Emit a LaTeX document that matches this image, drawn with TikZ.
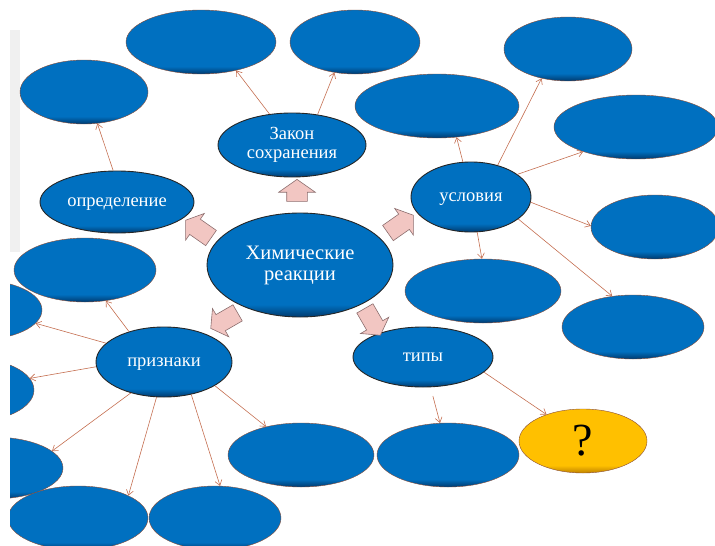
\documentclass[tikz,border=0pt]{standalone}
\usepackage{fontspec}
\setmainfont{Liberation Serif}
\usetikzlibrary{shapes.geometric,shapes.arrows,arrows.meta}
\definecolor{eblue}{RGB}{0,112,192}
\definecolor{eblueD}{RGB}{0,58,110}
\definecolor{eline}{RGB}{196,110,80}
\definecolor{ayel}{RGB}{255,192,0}
\definecolor{ayelD}{RGB}{190,130,0}
\definecolor{bpink}{RGB}{242,198,194}
\definecolor{bpinkD}{RGB}{140,110,110}
\definecolor{stripgrey}{RGB}{240,240,240}
\pgfdeclareverticalshading{ellsh}{100bp}{color(0bp)=(eblueD); color(25bp)=(eblueD); color(31bp)=(eblue); color(70bp)=(eblue); color(100bp)=(eblue)}
\pgfdeclareverticalshading{yelsh}{100bp}{color(0bp)=(ayelD); color(25bp)=(ayelD); color(31bp)=(ayel); color(70bp)=(ayel); color(100bp)=(ayel)}
\tikzset{
  blank/.style={ellipse, inner sep=0pt, shading=ellsh, draw=eline!70!black, line width=0.4pt},
  mainnode/.style={ellipse, inner sep=0pt, shading=ellsh, draw=black!85, line width=0.9pt,
     text=white, font=\fontsize{18.5}{19}\selectfont, align=center},
  oneline/.style={text depth=0pt},
  qnode/.style={ellipse, inner sep=0pt, shading=yelsh, draw=eline!70!black, line width=0.4pt,
     font=\fontsize{46}{46}\selectfont},
  conn/.style={draw=eline, line width=0.6pt, -{Straight Barb[length=5pt,width=7pt]}},
  blockarrow/.style={single arrow, fill=bpink, draw=bpinkD, line width=0.6pt,
     inner xsep=0pt, inner ysep=9pt, single arrow tip angle=110},
}
\begin{document}
\begin{tikzpicture}[x=1pt,y=-1pt]
\useasboundingbox (0,0) rectangle (715,546);
\fill[stripgrey] (10,30) rectangle (20,252);
\begin{scope}
\clip (10,0) rectangle (715,546);
% empty blue ellipses
\node[blank, minimum width=128, minimum height=64] (e1) at (84,92) {};
\node[blank, minimum width=150, minimum height=64] (e2) at (201,42) {};
\node[blank, minimum width=130, minimum height=64] (e3) at (355,42) {};
\node[blank, minimum width=128, minimum height=64] (e4) at (568,49) {};
\node[blank, minimum width=164, minimum height=64] (e5) at (437,106) {};
\node[blank, minimum width=164, minimum height=64] (e6) at (636,127) {};
\node[blank, minimum width=128, minimum height=64] (e7) at (655,227) {};
\node[blank, minimum width=156, minimum height=64] (e8) at (483,291) {};
\node[blank, minimum width=142, minimum height=64] (e9) at (633,327) {};
\node[blank, minimum width=142, minimum height=64] (e10) at (448,455) {};
\node[blank, minimum width=146, minimum height=64] (e11) at (301,455) {};
\node[blank, minimum width=142, minimum height=64] (e12) at (85,270) {};
\node[blank, minimum width=128, minimum height=60] (e13) at (-22,310) {};
\node[blank, minimum width=128, minimum height=64] (e14) at (-30,390) {};
\node[blank, minimum width=140, minimum height=62] (e15) at (-7,468) {};
\node[blank, minimum width=140, minimum height=64] (e16) at (78,518) {};
\node[blank, minimum width=132, minimum height=64] (e17) at (215,518) {};
\end{scope}
% main nodes
\node[mainnode, minimum width=186, minimum height=104, font=\fontsize{20.5}{21}\selectfont] (chem) at (300,265) {Химические\\реакции};
\node[mainnode, minimum width=148, minimum height=64] (zakon) at (292,145) {Закон\\сохранения};
\node[mainnode, oneline, minimum width=154, minimum height=62] (opr) at (117,202) {определение};
\node[mainnode, oneline, minimum width=120, minimum height=70] (usl) at (471,197) {условия};
\node[mainnode, oneline, minimum width=136, minimum height=70] (priz) at (164,362) {признаки};
\node[mainnode, oneline, minimum width=140, minimum height=60] (tipy) at (423,357) {типы};
\node[qnode, minimum width=128, minimum height=64] (q) at (583,441) {?};
% block arrows
\node[blockarrow, minimum height=22, single arrow head extend=8pt, inner ysep=10pt, rotate=90] (ba1) at (297,194) {};
\node[blockarrow, minimum height=31, single arrow head extend=7pt, rotate=145] (ba2) at (201,231) {};
\node[blockarrow, minimum height=31, single arrow head extend=7pt, rotate=35] (ba3) at (398,226) {};
\node[blockarrow, minimum height=31, single arrow head extend=7pt, rotate=210] (ba4) at (227,319) {};
\node[blockarrow, minimum height=31, single arrow head extend=7pt, rotate=-60] (ba5) at (371,319) {};
% connectors
\draw[conn] (zakon.126) -- (e2.-39);
\draw[conn] (zakon.50) -- (e3.236);
\draw[conn] (opr.97) -- (e1.293);
\draw[conn] (usl.103) -- (e5.302);
\draw[conn] (usl.50) -- (e4.228);
\draw[conn] (usl.26) -- (e6.205);
\draw[conn] (usl.-5) -- (e7.179);
\draw[conn] (usl.-80) -- (e8.92);
\draw[conn] (usl.-25) -- (e9.124);
\draw[conn, shorten <=9pt] (tipy.-76) -- (e10.104);
\draw[conn] (tipy.-14) -- (q.144);
\draw[conn] (priz.139) -- (e12.304);
\draw[conn] (priz.162) -- (e13.-13);
\draw[conn] (priz.184) -- (e14.11);
\draw[conn] (priz.223) -- (e15.16);
\draw[conn] (priz.258) -- (e16.24);
\draw[conn] (priz.310) -- (e17.81);
\draw[conn] (priz.335) -- (e11.141);
\end{tikzpicture}
\end{document}
